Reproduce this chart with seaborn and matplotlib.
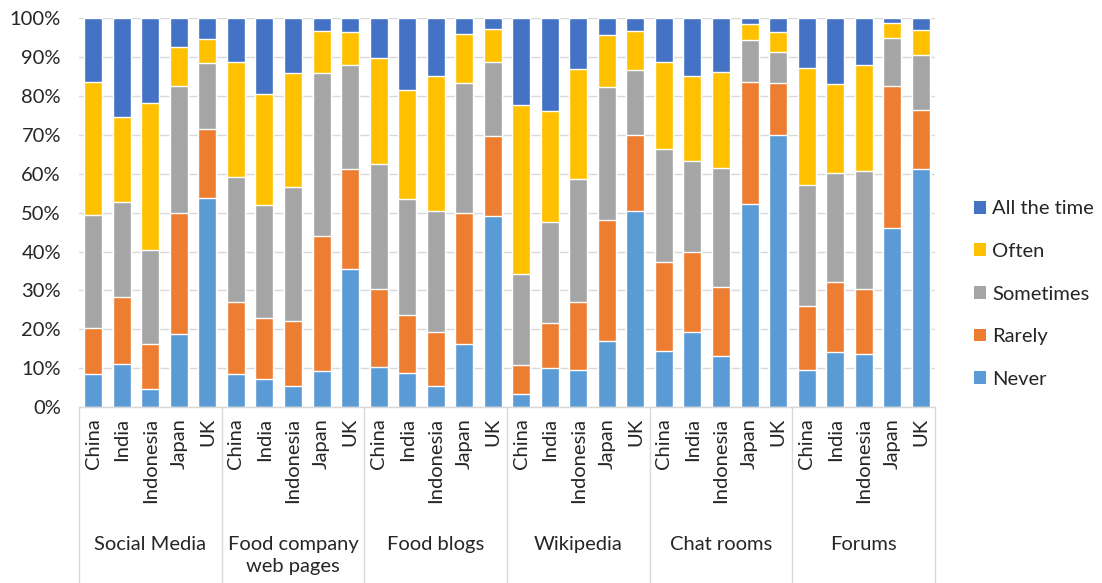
import numpy as np
import pandas as pd
import matplotlib
matplotlib.use("Agg")
import matplotlib.pyplot as plt
import matplotlib.transforms as mtransforms
from matplotlib.patches import Patch
import seaborn as sns

# Information sources and countries surveyed
sources = ["Social Media", "Food company\nweb pages", "Food blogs", "Wikipedia", "Chat rooms", "Forums"]
countries = ["China", "India", "Indonesia", "Japan", "UK"]

# Share of respondents (%) per response, ordered source by source, country by country
never = [8.4, 11.1, 4.7, 18.9, 53.7,
         8.4, 7.3, 5.5, 9.3, 35.4,
         10.2, 8.7, 5.3, 16.1, 49.1,
         3.4, 10.0, 9.6, 17.0, 50.3,
         14.5, 19.2, 13.0, 52.1, 70.0,
         9.6, 14.2, 13.7, 46.0, 61.3]
rarely = [11.9, 17.3, 11.4, 31.0, 17.9,
          18.7, 15.6, 16.7, 34.8, 25.9,
          20.1, 14.9, 13.9, 33.8, 20.6,
          7.4, 11.7, 17.3, 31.1, 19.8,
          22.9, 20.6, 17.9, 31.5, 13.3,
          16.3, 18.0, 16.6, 36.7, 15.0]
sometimes = [29.0, 24.3, 24.4, 32.8, 16.9,
             32.1, 29.0, 34.5, 41.7, 26.6,
             32.3, 29.8, 31.1, 33.4, 19.0,
             23.5, 25.8, 31.7, 34.2, 16.6,
             29.0, 23.4, 30.5, 10.8, 8.0,
             31.1, 28.0, 30.5, 12.3, 14.3]
often = [34.3, 22.0, 37.8, 9.9, 6.2,
         29.5, 28.6, 29.1, 11.0, 8.7,
         27.2, 28.1, 34.9, 12.7, 8.6,
         43.4, 28.7, 28.3, 13.3, 10.1,
         22.4, 22.0, 24.7, 4.1, 5.3,
         30.3, 22.8, 27.1, 3.7, 6.5]
all_the_time = [16.4, 25.3, 21.7, 7.4, 5.3,
                11.3, 19.5, 14.2, 3.2, 3.4,
                10.2, 18.5, 14.8, 4.0, 2.7,
                22.3, 23.8, 13.1, 4.4, 3.2,
                11.2, 14.8, 13.9, 1.5, 3.4,
                12.7, 17.0, 12.1, 1.3, 2.9]

responses = ["Never", "Rarely", "Sometimes", "Often", "All the time"]
colors = {"Never": "#5B9BD5", "Rarely": "#ED7D31", "Sometimes": "#A5A5A5",
          "Often": "#FFC000", "All the time": "#4472C4"}

keys = [f"{s}|{c}" for s in sources for c in countries]
df = pd.DataFrame({"key": keys, "Never": never, "Rarely": rarely,
                   "Sometimes": sometimes, "Often": often, "All the time": all_the_time})
cum = df[responses].cumsum(axis=1)

sns.set_theme(style="white")
plt.rcParams["font.family"] = ["Lato", "DejaVu Sans"]
FS = 14.5
TXT = "#262626"

fig = plt.figure(figsize=(11.02, 5.83), dpi=100)
ax = fig.add_axes([79 / 1102, 1 - 407 / 583, (935 - 79) / 1102, (407 - 18.3) / 583])

# Stacked bars: draw cumulative totals from the top layer down
for resp in reversed(responses):
    sns.barplot(x=df["key"], y=cum[resp], order=keys, color=colors[resp],
                saturation=1, width=0.63, ax=ax, zorder=2)

ax.set_ylim(0, 100)
ax.set_xlim(-0.5, len(keys) - 0.5)
ax.set_yticks(np.arange(0, 101, 10))
ax.set_yticklabels([f"{v}%" for v in range(0, 101, 10)], fontsize=FS, color=TXT)
ax.yaxis.grid(True, color="#D9D9D9", linewidth=1, zorder=0)
ax.set_axisbelow(True)
ax.tick_params(axis="y", length=0, pad=13)

ax.set_xticks(range(len(keys)))
ax.set_xticklabels(countries * len(sources), rotation=90, fontsize=FS, color=TXT)
ax.tick_params(axis="x", length=0, pad=8)
ax.set_xlabel("")
ax.set_ylabel("")
for sp in ["top", "right", "left"]:
    ax.spines[sp].set_visible(False)
ax.spines["bottom"].set_color("#D9D9D9")
ax.spines["bottom"].set_linewidth(1)

# Group separators and group labels below the axis
trans = mtransforms.blended_transform_factory(ax.transData, ax.transAxes)
n = len(countries)
for g in range(len(sources) + 1):
    xb = g * n - 0.5
    ax.plot([xb, xb], [0, -0.46], transform=trans, color="#D9D9D9",
            linewidth=1, clip_on=False)
for g, s in enumerate(sources):
    xc = g * n + (n - 1) / 2
    ax.text(xc, -0.332, s, transform=trans, ha="center", va="top",
            fontsize=FS, color=TXT, linespacing=1.35)

handles = [Patch(facecolor=colors[r], edgecolor="none", label=r) for r in reversed(responses)]
fig.legend(handles=handles, loc="center left", bbox_to_anchor=(974 / 1102, 1 - 294 / 583),
           frameon=False, fontsize=FS, handlelength=0.6, handleheight=0.6,
           handletextpad=0.3, labelspacing=1.27, borderpad=0, borderaxespad=0,
           labelcolor=TXT)

fig.savefig("out.png", dpi=100)
